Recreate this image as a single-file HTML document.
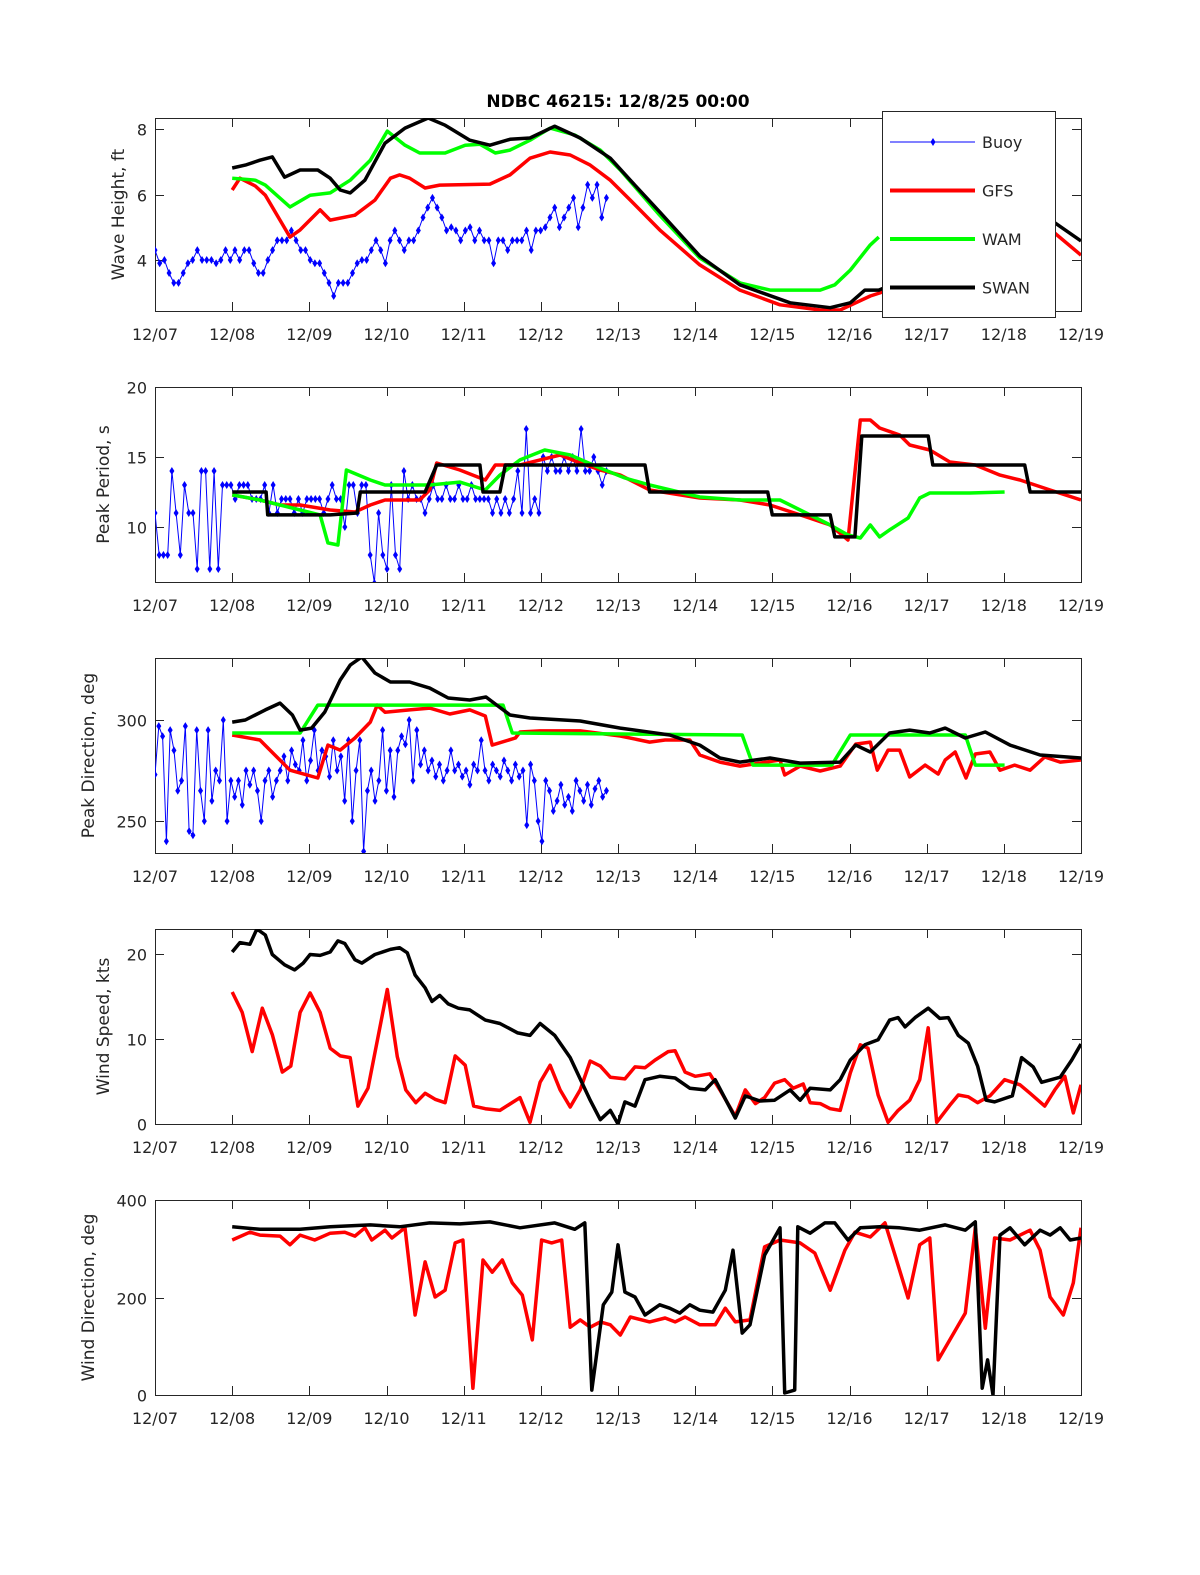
<!DOCTYPE html>
<html><head><meta charset="utf-8">
<style>
html,body{margin:0;padding:0;background:#fff;}
svg{display:block;font-family:"DejaVu Sans","Liberation Sans",sans-serif;}
</style></head>
<body>
<svg id="chart" width="1200" height="1575" viewBox="0 0 1200 1575" xmlns="http://www.w3.org/2000/svg">
<rect width="1200" height="1575" fill="#fff"/>
<text x="618" y="107" text-anchor="middle" font-size="17" font-weight="bold">NDBC 46215: 12/8/25 00:00</text>
</svg>
<script>
// ---- shared axis data ----
const xTickLabels = ["12/07","12/08","12/09","12/10","12/11","12/12","12/13","12/14","12/15","12/16","12/17","12/18","12/19"];

// ---- Panel 1: wave height (ft) ----
const gfsHsT = [1.00,1.10,1.30,1.43,1.62,1.75,1.88,2.14,2.27,2.59,2.85,3.05,3.17,3.30,3.50,3.69,4.34,4.60,4.86,5.12,5.38,5.64,5.90,6.16,6.54,7.06,7.58,8.10,8.62,8.88,9.27,9.39,11.61,12.00];
const gfsHs = [6.14,6.50,6.26,5.98,5.22,4.70,4.92,5.53,5.22,5.37,5.83,6.50,6.60,6.50,6.20,6.29,6.32,6.60,7.11,7.30,7.21,6.90,6.44,5.83,4.92,3.85,3.08,2.63,2.47,2.47,2.90,2.99,4.92,4.15];
const wamHsT = [1.00,1.30,1.43,1.75,2.01,2.27,2.53,2.79,3.01,3.24,3.43,3.76,4.02,4.21,4.41,4.60,4.86,5.12,5.44,5.77,6.03,6.54,7.06,7.58,7.97,8.62,8.81,9.01,9.27,9.38];
const wamHs = [6.50,6.44,6.29,5.62,5.98,6.05,6.44,7.05,7.94,7.51,7.27,7.27,7.51,7.54,7.27,7.36,7.66,8.03,7.82,7.36,6.75,5.37,4.06,3.30,3.08,3.08,3.24,3.69,4.46,4.70];
const swanHsT = [1.00,1.17,1.36,1.52,1.68,1.88,2.11,2.27,2.40,2.53,2.72,2.98,3.24,3.54,3.76,4.08,4.34,4.60,4.86,5.18,5.51,5.90,6.16,6.54,7.06,7.58,8.23,8.75,9.01,9.20,9.38,11.61,12.00];
const swanHs = [6.81,6.90,7.05,7.15,6.53,6.75,6.75,6.50,6.14,6.05,6.44,7.57,8.03,8.34,8.12,7.66,7.51,7.69,7.73,8.09,7.73,7.11,6.44,5.47,4.12,3.24,2.69,2.54,2.69,3.08,3.08,5.22,4.58];
const buoyHs = [4.3,3.9,4.0,3.6,3.3,3.3,3.6,3.9,4.0,4.3,4.0,4.0,4.0,3.9,4.0,4.3,4.0,4.3,4.0,4.3,4.3,3.9,3.6,3.6,4.0,4.3,4.6,4.6,4.6,4.9,4.6,4.3,4.3,4.0,3.9,3.9,3.6,3.3,2.9,3.3,3.3,3.3,3.6,3.9,4.0,4.0,4.3,4.6,4.3,3.9,4.6,4.9,4.6,4.3,4.6,4.6,4.9,5.3,5.6,5.9,5.6,5.3,4.9,5.0,4.9,4.6,4.9,5.0,4.6,4.9,4.6,4.6,3.9,4.6,4.6,4.3,4.6,4.6,4.6,4.9,4.3,4.9,4.9,5.0,5.3,5.6,5.0,5.3,5.6,5.9,5.0,5.6,6.3,5.9,6.3,5.3,5.9];

// ---- Panel 2: peak period (s) ----
const gfsTpT = [1.00,1.36,1.62,1.88,2.27,2.59,2.79,2.98,3.43,3.56,3.65,3.95,4.28,4.41,4.73,4.99,5.25,5.51,5.77,6.03,6.41,7.06,7.58,7.97,8.36,8.75,8.98,9.14,9.27,9.39,9.65,9.78,10.04,10.30,10.63,10.95,11.21,11.60,12.00];
const gfsTp = [12.29,11.93,11.57,11.57,11.21,11.07,11.57,11.93,11.93,12.64,14.57,14.07,13.36,14.43,14.43,14.79,15.14,14.57,14.07,13.71,12.64,12.07,11.93,11.57,10.86,10.14,9.07,17.64,17.64,17.07,16.57,15.86,15.5,14.64,14.43,13.71,13.36,12.64,11.93];
const wamTpT = [1.00,1.36,1.88,2.14,2.24,2.37,2.48,2.79,2.98,3.56,3.95,4.28,4.47,4.73,5.05,5.38,5.77,6.09,6.41,7.06,7.58,8.10,8.36,8.75,8.98,9.14,9.27,9.39,9.52,9.76,9.91,10.04,10.56,11.01];
const wamTp = [12.29,11.93,11.21,10.86,8.86,8.71,14.07,13.36,13.0,13.0,13.21,12.64,13.71,14.79,15.5,15.14,14.21,13.5,13.0,12.14,11.93,11.93,11.21,10.14,9.43,9.21,10.14,9.29,9.79,10.64,12.07,12.43,12.43,12.5];
const swanTpT = [1.00,1.44,1.46,2.27,2.62,2.66,3.50,3.65,4.21,4.25,4.47,4.54,6.35,6.41,7.94,8.00,8.75,8.81,9.07,9.16,10.02,10.08,11.27,11.34,12.00];
const swanTp = [12.5,12.5,10.86,10.86,11.0,12.5,12.5,14.43,14.43,12.5,12.5,14.43,14.43,12.5,12.5,10.86,10.86,9.29,9.29,16.5,16.5,14.43,14.43,12.5,12.5];
const buoyTp = [11,8,8,8,14,11,8,13,11,11,7,14,14,7,14,7,13,13,13,12,13,13,13,12,12,12,13,11,13,11,12,12,12,11,12,11,12,12,12,12,11,12,13,12,12,10,13,13,11,13,13,8,6,11,8,7,13,8,7,14,12,13,12,12,11,12,13,12,12,13,12,12,13,12,12,13,12,12,12,12,11,12,11,12,11,12,14,11,17,11,12,11,15,14,15,14,14,15,14,15,14,17,14,14,15,14,13,14];

// ---- Panel 3: peak direction (deg) ----
const gfsDpT = [1.00,1.36,1.49,1.75,2.11,2.24,2.40,2.59,2.79,2.88,2.98,3.30,3.56,3.82,4.08,4.28,4.37,4.67,4.73,4.99,5.51,6.03,6.41,6.61,6.93,7.06,7.32,7.58,8.10,8.16,8.36,8.62,8.88,9.08,9.27,9.36,9.50,9.65,9.78,9.98,10.15,10.24,10.37,10.51,10.63,10.82,10.95,11.14,11.34,11.53,11.73,12.00];
const gfsDp = [292.6,290.1,285.1,275.2,271.3,287.6,285.1,291.1,299.0,307.4,303.9,305.0,305.9,303.0,305.0,302.0,287.6,291.1,294.1,294.6,294.6,292.1,289.1,290.1,290.1,282.7,279.2,277.2,280.2,272.8,277.2,274.8,277.2,288.1,289.1,275.2,285.1,285.1,271.8,277.7,273.3,280.2,284.2,271.3,283.2,284.2,275.2,277.7,275.2,281.7,279.2,280.2];
const wamDpT = [1.00,1.88,2.11,4.51,4.63,7.61,7.75,8.77,9.01,10.50,10.63,11.01];
const wamDp = [293.6,293.6,307.4,307.4,293.6,292.6,277.7,277.7,292.6,292.6,277.7,277.7];
const swanDpT = [1.00,1.17,1.43,1.62,1.78,1.88,2.03,2.20,2.40,2.53,2.68,2.85,3.05,3.30,3.56,3.80,4.08,4.29,4.43,4.60,4.86,5.51,6.03,6.67,7.06,7.32,7.58,7.97,8.36,8.88,9.08,9.27,9.52,9.78,10.04,10.24,10.50,10.76,11.08,11.47,12.00];
const swanDp = [299.0,300.0,305.0,308.4,302.5,295.0,296.0,304.0,319.8,327.2,331.2,323.3,318.8,318.8,315.8,310.9,309.9,311.4,307.4,302.5,301.0,299.5,296.0,292.6,287.6,281.2,279.2,281.2,278.7,279.2,287.6,284.2,293.6,295.0,293.6,296.0,291.1,294.1,287.6,282.7,281.2];
const buoyDp = [273,297,292,240,295,285,265,270,297,245,243,295,265,250,295,260,275,270,300,250,270,262,270,258,275,268,275,265,250,270,275,262,270,275,282,270,285,278,275,290,270,280,295,275,285,282,272,290,275,282,260,290,250,275,290,235,265,275,260,270,295,265,285,262,285,292,288,300,270,295,278,285,275,280,272,278,270,275,285,275,278,272,275,268,278,275,290,275,270,278,275,272,280,275,270,278,272,275,248,278,270,250,240,270,265,255,260,268,258,262,255,270,265,260,268,258,266,270,262,265];

// ---- Panel 4: wind speed (kts) ----
const gfsWsT = [1.00,1.13,1.26,1.39,1.52,1.65,1.76,1.88,2.01,2.14,2.27,2.40,2.53,2.63,2.76,3.01,3.14,3.25,3.38,3.50,3.63,3.76,3.89,4.02,4.13,4.28,4.47,4.73,4.86,4.99,5.12,5.25,5.38,5.51,5.64,5.77,5.90,6.09,6.22,6.35,6.48,6.65,6.74,6.87,7.00,7.19,7.32,7.52,7.65,7.78,7.90,8.03,8.16,8.27,8.40,8.49,8.62,8.75,8.88,9.01,9.14,9.24,9.37,9.50,9.63,9.78,9.91,10.02,10.13,10.30,10.41,10.54,10.66,10.82,11.01,11.21,11.34,11.53,11.66,11.79,11.90,12.00];
const gfsWs = [15.5,13.1,8.5,13.6,10.5,6.1,6.8,13.1,15.4,13.1,8.9,8.0,7.8,2.1,4.2,15.8,7.9,4.0,2.5,3.6,2.9,2.5,8.0,6.9,2.1,1.8,1.6,3.1,0.2,4.9,6.9,4.0,2.0,4.0,7.4,6.8,5.5,5.3,6.7,6.6,7.5,8.5,8.6,6.1,5.6,5.9,4.0,0.9,4.0,2.4,3.1,4.8,5.2,4.2,4.7,2.5,2.4,1.8,1.6,6.0,9.3,8.9,3.4,0.2,1.6,2.8,5.2,11.3,0.2,2.2,3.4,3.2,2.5,3.3,5.2,4.6,3.6,2.1,4.0,5.6,1.3,4.6];
const swanWsT = [1.00,1.10,1.23,1.32,1.43,1.52,1.68,1.81,1.92,2.01,2.14,2.27,2.37,2.46,2.59,2.68,2.85,3.05,3.17,3.27,3.37,3.50,3.59,3.69,3.80,3.93,4.08,4.28,4.47,4.70,4.86,4.99,5.18,5.38,5.64,5.77,5.90,6.00,6.09,6.22,6.35,6.54,6.74,6.93,7.13,7.26,7.52,7.65,7.84,8.03,8.23,8.36,8.49,8.75,8.88,9.01,9.20,9.37,9.52,9.63,9.72,9.85,10.02,10.17,10.28,10.41,10.54,10.66,10.77,10.88,11.11,11.23,11.38,11.49,11.73,11.88,12.00];
const swanWs = [20.2,21.3,21.1,22.9,22.2,19.9,18.7,18.1,18.9,19.9,19.8,20.2,21.5,21.2,19.3,18.9,19.9,20.5,20.7,20.1,17.5,16.0,14.4,15.1,14.1,13.6,13.4,12.2,11.8,10.7,10.4,11.8,10.4,7.8,2.8,0.5,1.6,0.0,2.6,2.1,5.2,5.6,5.4,4.2,4.0,5.2,0.7,3.3,2.7,2.8,4.0,2.8,4.2,4.0,5.2,7.5,9.3,9.9,12.2,12.5,11.4,12.5,13.6,12.4,12.5,10.4,9.5,6.8,2.8,2.6,3.3,7.8,6.7,4.9,5.5,7.5,9.4];

// ---- Panel 5: wind direction (deg) ----
const gfsWdT = [1.00,1.23,1.36,1.62,1.75,1.88,2.07,2.27,2.46,2.59,2.72,2.81,2.98,3.07,3.24,3.37,3.50,3.63,3.76,3.89,3.99,4.12,4.25,4.37,4.50,4.63,4.76,4.89,5.01,5.14,5.27,5.38,5.51,5.64,5.77,5.90,6.03,6.16,6.41,6.61,6.74,6.87,7.06,7.26,7.39,7.52,7.71,7.90,8.10,8.36,8.55,8.75,8.94,9.07,9.27,9.46,9.59,9.76,9.91,10.04,10.15,10.30,10.50,10.63,10.76,10.88,11.08,11.34,11.47,11.60,11.77,11.90,12.00];
const gfsWd = [318,334,328,326,308,328,318,332,334,326,343,318,338,322,343,164,273,201,215,312,318,14,277,252,277,230,205,113,318,312,318,139,154,139,150,144,123,160,150,158,150,160,144,144,178,150,154,304,318,312,291,215,297,334,324,353,287,199,308,322,72,113,168,343,137,322,318,338,297,201,164,230,343];
const swanWdT = [1.00,1.36,1.88,2.27,2.79,3.17,3.56,3.95,4.34,4.73,5.18,5.44,5.57,5.66,5.81,5.92,6.00,6.09,6.22,6.35,6.54,6.67,6.80,6.93,7.06,7.23,7.39,7.49,7.61,7.71,7.90,8.10,8.16,8.29,8.33,8.49,8.68,8.81,8.98,9.14,9.39,9.65,9.91,10.24,10.50,10.63,10.72,10.79,10.86,10.95,11.08,11.27,11.47,11.60,11.73,11.86,12.00];
const swanWd = [345,340,340,345,349,345,353,351,355,343,353,340,353,10,185,211,308,211,201,164,185,178,168,185,174,170,215,297,127,144,287,343,4,10,345,332,353,353,318,343,345,343,338,349,338,355,14,72,0,328,343,308,338,328,343,318,322];

// ---- axis + drawing ----
const NS = "http://www.w3.org/2000/svg";
const svg = document.getElementById("chart");
const X0 = 155, X1 = 1081, XMIN = 0, XMAX = 12;
function xs(d){ return X0 + (d - XMIN) / (XMAX - XMIN) * (X1 - X0); }
function mk(tag, attrs, parent){
  const e = document.createElementNS(NS, tag);
  for (const k in attrs) e.setAttribute(k, attrs[k]);
  (parent || svg).appendChild(e);
  return e;
}
function ysFor(p){ return v => p.bottom - (v - p.ymin) / (p.ymax - p.ymin) * (p.bottom - p.top); }

const panels = [
  {key:"wave-height", top:118, bottom:311, ymin:2.44, ymax:8.34, ticks:[4,6,8], label:"Wave Height, ft", lx:124},
  {key:"peak-period", top:387, bottom:582, ymin:6.07, ymax:20, ticks:[10,15,20], label:"Peak Period, s", lx:109},
  {key:"peak-direction", top:658, bottom:853, ymin:234.2, ymax:330.7, ticks:[250,300], label:"Peak Direction, deg", lx:94},
  {key:"wind-speed", top:929, bottom:1124, ymin:0, ymax:22.9, ticks:[0,10,20], label:"Wind Speed, kts", lx:109},
  {key:"wind-direction", top:1200, bottom:1395, ymin:0, ymax:400, ticks:[0,200,400], label:"Wind Direction, deg", lx:94}
];

function drawLine(g, p, ts, vs, color, width, name){
  const y = ysFor(p);
  let d = "";
  for (let i = 0; i < ts.length; i++) d += (i ? "L" : "M") + xs(ts[i]).toFixed(1) + " " + y(vs[i]).toFixed(1);
  const el = mk("path", {d:d, fill:"none", stroke:color, "stroke-width":width, "stroke-linejoin":"round"}, g);
  
  
}
function drawBuoy(g, p, vs, name){
  const y = ysFor(p);
  const tEnd = 5.85;
  const ts = vs.map((v, i) => i * tEnd / (vs.length - 1));
  drawLine(g, p, ts, vs, "#0000ff", 1, name + "-line");
  for (let i = 0; i < vs.length; i++){
    const cx = xs(ts[i]), cy = y(vs[i]);
    const m = mk("path", {d:`M${cx} ${cy-4}L${cx+2.5} ${cy}L${cx} ${cy+4}L${cx-2.5} ${cy}Z`, fill:"#0000ff"}, g);
    
    
  }
}

const series = [
  {buoy:buoyHs, gfs:[gfsHsT,gfsHs], wam:[wamHsT,wamHs], swan:[swanHsT,swanHs]},
  {buoy:buoyTp, gfs:[gfsTpT,gfsTp], wam:[wamTpT,wamTp], swan:[swanTpT,swanTp]},
  {buoy:buoyDp, gfs:[gfsDpT,gfsDp], wam:[wamDpT,wamDp], swan:[swanDpT,swanDp]},
  {gfs:[gfsWsT,gfsWs], swan:[swanWsT,swanWs]},
  {gfs:[gfsWdT,gfsWd], swan:[swanWdT,swanWd]}
];

panels.forEach((p, pi) => {
  const g = mk("g", {});
  
  
  const clipId = "clip" + pi;
  const cp = mk("clipPath", {id:clipId}, g);
  mk("rect", {x:X0, y:p.top, width:X1-X0, height:p.bottom-p.top}, cp);
  const y = ysFor(p);
  // box
  const box = mk("rect", {x:X0+0.5, y:p.top+0.5, width:X1-X0, height:p.bottom-p.top, fill:"none", stroke:"#262626", "stroke-width":1}, g);
  
  
  // x ticks
  xTickLabels.forEach((lab, i) => {
    const x = Math.round(xs(i)) + 0.5;
    mk("line", {x1:x, x2:x, y1:p.bottom, y2:p.bottom-9, stroke:"#262626"}, g);
    mk("line", {x1:x, x2:x, y1:p.top, y2:p.top+9, stroke:"#262626"}, g);
    const t = mk("text", {x:xs(i), y:p.bottom+29, "text-anchor":"middle", "font-size":16, fill:"#262626"}, g);
    t.textContent = lab;
    
    
  });
  // y ticks
  p.ticks.forEach(v => {
    const yy = Math.round(y(v)) + 0.5;
    mk("line", {x1:X0, x2:X0+9, y1:yy, y2:yy, stroke:"#262626"}, g);
    mk("line", {x1:X1, x2:X1-9, y1:yy, y2:yy, stroke:"#262626"}, g);
    const t = mk("text", {x:147, y:yy+6, "text-anchor":"end", "font-size":16, fill:"#262626"}, g);
    t.textContent = v;
    
    
  });
  const cy = (p.top + p.bottom) / 2;
  const yl = mk("text", {x:p.lx, y:cy, "text-anchor":"middle", "font-size":17, fill:"#262626", transform:`rotate(-90 ${p.lx} ${cy})`}, g);
  yl.textContent = p.label;
  
  
  // series
  const sg = mk("g", {"clip-path":`url(#${clipId})`}, g);
  const s = series[pi];
  if (s.buoy) drawBuoy(sg, p, s.buoy, p.key + "-buoy");
  if (s.gfs) drawLine(sg, p, s.gfs[0], s.gfs[1], "#ff0000", 3.5, p.key + "-gfs-line");
  if (s.wam) drawLine(sg, p, s.wam[0], s.wam[1], "#00ff00", 3.5, p.key + "-wam-line");
  if (s.swan) drawLine(sg, p, s.swan[0], s.swan[1], "#000000", 3.5, p.key + "-swan-line");
});

// legend
const lg = mk("g", {});


mk("rect", {x:882.5, y:111.5, width:173, height:206, fill:"#fff", stroke:"#262626", "stroke-width":1}, lg);
const legendNames = ["Buoy","GFS","WAM","SWAN"];
const legendColors = ["#0000ff","#ff0000","#00ff00","#000000"];
legendNames.forEach((n, i) => {
  const yy = 142 + i * 48.5;
  const e = mk("g", {}, lg);
  
  
  mk("line", {x1:890, x2:975, y1:yy, y2:yy, stroke:legendColors[i], "stroke-width": i ? 4 : 1}, e);
  if (i === 0) mk("path", {d:`M933 ${yy-4}L935.5 ${yy}L933 ${yy+4}L930.5 ${yy}Z`, fill:"#0000ff"}, e);
  const t = mk("text", {x:982, y:yy+6, "font-size":16, fill:"#262626"}, e);
  t.textContent = n;
});
</script>
</body></html>
